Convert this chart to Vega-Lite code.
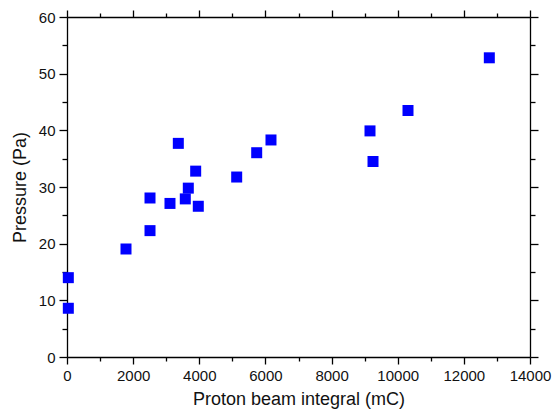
{
  "$schema": "https://vega.github.io/schema/vega-lite/v6.json",
  "width": 463,
  "height": 340,
  "autosize": {"type": "none"},
  "padding": {"left": 67, "top": 17, "right": 28, "bottom": 57},
  "background": "white",
  "config": {
    "view": {"stroke": null},
    "axis": {
      "grid": false,
      "domainColor": "black",
      "tickColor": "black",
      "labelColor": "#111111",
      "titleColor": "#111111",
      "labelFont": "Liberation Sans",
      "titleFont": "Liberation Sans",
      "labelFontSize": 15,
      "titleFontSize": 18,
      "titleFontWeight": "normal",
      "domainWidth": 1.3,
      "tickWidth": 1.3,
      "labelOverlap": false,
      "labelFlush": false,
      "labelBound": false
    }
  },
  "data": {
    "values": [
      {"x": 3366, "y": 37.7},
      {"x": 3891, "y": 32.8},
      {"x": 5736, "y": 36.05},
      {"x": 6168, "y": 38.3},
      {"x": 5131, "y": 31.76},
      {"x": 3668, "y": 29.8},
      {"x": 2510, "y": 28.06},
      {"x": 3114, "y": 27.1},
      {"x": 3577, "y": 27.9},
      {"x": 3970, "y": 26.6},
      {"x": 2510, "y": 22.3},
      {"x": 1784, "y": 19.06},
      {"x": 40, "y": 14.0},
      {"x": 40, "y": 8.6},
      {"x": 12770, "y": 52.8},
      {"x": 10311, "y": 43.5},
      {"x": 9162, "y": 39.9},
      {"x": 9253, "y": 34.5}
    ]
  },
  "layer": [
    {
      "mark": {"type": "square", "size": 121, "color": "#0000FF", "opacity": 1},
      "encoding": {
        "x": {
          "field": "x", "type": "quantitative",
          "scale": {"domain": [0, 14000], "nice": false, "zero": false},
          "axis": {
            "orient": "bottom",
            "title": "Proton beam integral (mC)",
            "values": [0, 1000, 2000, 3000, 4000, 5000, 6000, 7000, 8000, 9000, 10000, 11000, 12000, 13000, 14000],
            "tickSize": {"condition": {"test": "datum.value % 2000 === 0", "value": 7}, "value": 4},
            "labelExpr": "datum.value % 2000 === 0 ? format(datum.value, 'd') : ''",
            "labelPadding": 4,
            "titlePadding": 7
          }
        },
        "y": {
          "field": "y", "type": "quantitative",
          "scale": {"domain": [0, 60], "nice": false, "zero": false},
          "axis": {
            "orient": "left",
            "title": "Pressure (Pa)",
            "values": [0, 5, 10, 15, 20, 25, 30, 35, 40, 45, 50, 55, 60],
            "tickSize": {"condition": {"test": "datum.value % 10 === 0", "value": 8}, "value": 5},
            "labelExpr": "datum.value % 10 === 0 ? format(datum.value, 'd') : ''",
            "labelPadding": 4,
            "titlePadding": 9
          }
        }
      }
    },
    {
      "mark": {"type": "square", "size": 121, "opacity": 0},
      "encoding": {
        "x": {
          "field": "x", "type": "quantitative",
          "scale": {"domain": [0, 14000], "nice": false, "zero": false},
          "axis": {
            "orient": "top",
            "title": null,
            "labels": false,
            "values": [0, 1000, 2000, 3000, 4000, 5000, 6000, 7000, 8000, 9000, 10000, 11000, 12000, 13000, 14000],
            "tickSize": {"condition": {"test": "datum.value % 2000 === 0", "value": 7}, "value": 4}
          }
        },
        "y": {
          "field": "y", "type": "quantitative",
          "scale": {"domain": [0, 60], "nice": false, "zero": false},
          "axis": {
            "orient": "right",
            "title": null,
            "labels": false,
            "values": [0, 5, 10, 15, 20, 25, 30, 35, 40, 45, 50, 55, 60],
            "tickSize": {"condition": {"test": "datum.value % 10 === 0", "value": 8}, "value": 5}
          }
        }
      }
    }
  ],
  "resolve": {"axis": {"x": "independent", "y": "independent"}}
}
